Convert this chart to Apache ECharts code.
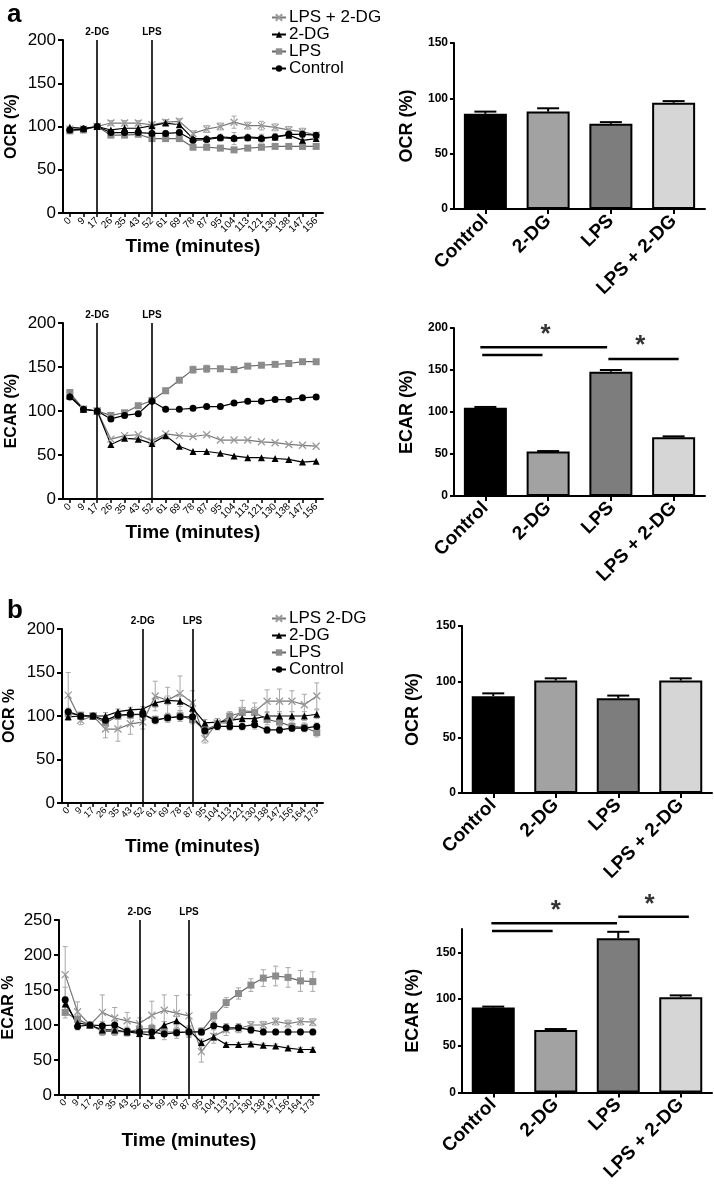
<!DOCTYPE html>
<html><head><meta charset="utf-8">
<script src="https://cdn.jsdelivr.net/npm/echarts@6/dist/echarts.min.js"></script>
<style>html,body{margin:0;padding:0;background:#fff}#c{width:714px;height:1184px}</style>
</head><body><div id="c"></div>
<script>
// ---------- DATA ----------
const timesA = ['0','9','17','26','35','43','52','61','69','78','87','95','104','113','121','130','138','147','156'];
const timesB = ['0','9','17','26','35','43','52','61','69','78','87','95','104','113','121','130','138','147','156','164','173'];
const eventsA = [['17','2-DG'],['52','LPS']];
const eventsB = [['52','2-DG'],['87','LPS']];

// panel a, OCR (%)
const ocrA_ctrl  = [96,97,100,93,93,93,92,92,93,84,85,87,86,87,86,88,91,91,90];
const ocrA_dg    = [99,98,100,96,98,98,101,104,102,86,86,88,87,88,87,88,90,84,86];
const ocrA_lps   = [95,96,100,90,90,91,86,86,86,76,76,75,73,75,76,77,77,77,77];
const ocrA_combo = [97,97,100,104,104,104,102,105,106,92,97,100,105,101,101,99,96,94,90];
const ocrA_err   = [2,2,1,3,3,3,3,3,3,3,4,4,7,4,5,4,4,4,3];
// panel a, ECAR (%)
const ecarA_ctrl  = [116,102,100,91,95,97,111,102,102,103,105,105,109,111,111,113,113,115,116];
const ecarA_dg    = [117,102,100,62,69,68,63,72,60,54,54,52,49,47,47,46,45,42,43];
const ecarA_lps   = [121,102,100,95,98,106,112,123,135,147,148,148,147,151,152,153,154,156,156];
const ecarA_combo = [118,102,100,68,72,73,66,74,72,71,73,67,67,67,65,64,62,61,60];
const ecarA_err   = [3,2,1,3,2,2,2,3,2,4,4,3,2,2,2,2,2,2,2];

// panel b, OCR %
const ocrB_ctrl  = [105,100,100,95,101,102,102,95,98,99,99,83,88,88,88,90,84,84,86,86,88];
const ocrB_dg    = [99,100,100,100,105,107,108,115,118,117,109,92,93,95,97,97,100,100,100,100,102];
const ocrB_lps   = [103,101,100,92,100,101,102,96,98,100,96,84,90,100,104,104,96,93,88,87,81];
const ocrB_combo = [124,95,100,85,85,91,93,123,118,126,115,74,92,92,106,105,117,117,117,113,123];
const ocrB_ctrl_err  = [4,3,2,4,3,3,3,4,5,5,5,4,4,4,4,5,4,4,4,4,4];
const ocrB_dg_err    = [4,3,2,4,3,3,3,5,5,6,5,4,4,4,5,5,5,5,5,5,5];
const ocrB_lps_err   = [4,3,2,5,4,4,4,4,5,6,5,4,4,5,6,6,6,6,5,5,5];
const ocrB_combo_err = [26,5,3,10,14,12,8,17,15,20,14,5,5,8,12,10,13,14,12,12,15];
// panel b, ECAR %
const ecarB_ctrl  = [136,98,100,99,100,91,90,90,87,89,90,90,99,96,96,93,90,90,90,90,90];
const ecarB_dg    = [130,103,100,93,93,90,88,85,100,106,93,75,83,72,72,73,71,70,67,65,65];
const ecarB_lps   = [118,108,100,91,91,90,94,95,90,90,90,91,113,132,145,157,167,170,168,163,162];
const ecarB_combo = [172,119,100,118,110,106,102,114,121,117,113,62,84,93,95,100,100,105,102,105,104];
const ecarB_ctrl_err  = [18,5,3,6,6,6,6,6,8,8,8,5,6,6,6,5,4,4,4,4,4];
const ecarB_dg_err    = [10,5,3,5,5,5,5,5,5,6,6,5,5,3,3,3,3,3,3,3,3];
const ecarB_lps_err   = [8,6,3,6,6,6,6,6,6,6,6,5,6,7,8,9,12,14,14,15,14];
const ecarB_combo_err = [40,14,3,25,15,12,8,20,22,25,30,15,10,8,6,5,5,5,5,5,5];

// bar charts
const barCats = ['Control','2-DG','LPS','LPS + 2-DG'];
const ocrA_bar = [86,88,77,96];     const ocrA_bar_err = [2,3,1.5,1.5];
const ecarA_bar = [105,53,148,70];  const ecarA_bar_err = [1,0.5,2,1];
const ocrB_bar = [87,101,85,101];   const ocrB_bar_err = [2.5,2,2.5,2];
const ecarB_bar = [91,67,165,102];  const ecarB_bar_err = [1,1,7,2];
// significance brackets: [fromIndex, toIndex, value]; stars: [index, value]
const sigA_lines = [[-0.08,1.94,177],[-0.05,0.91,168],[1.96,3.08,163]];
const sigA_stars = [[0.96,192],[2.47,179]];
const sigB_lines = [[-0.03,1.98,181],[-0.02,0.95,173],[2.0,3.13,188]];
const sigB_stars = [[1.0,194],[2.5,200]];

// ---------- STYLE / LAYOUT ----------
const FONT = "'Liberation Sans', Arial, Helvetica, sans-serif";
const barColors = ['#000000','#a2a2a2','#7d7d7d','#d6d6d6'];
const STY = {
  ctrl:  {symbol:'circle', size:7, color:'#000', line:'#000'},
  dg:    {symbol:'triangle', size:7, color:'#000', line:'#000'},
  lps:   {symbol:'rect', size:7, color:'#8c8c8c', line:'#666'},
  combo: {symbol:'path://M0,0L10,10M10,0L0,10', size:7, color:'#9a9a9a', line:'#777', bw:1.3}
};
const grids = [
  {left:63, top:40, width:260, height:173},
  {left:454, top:43, width:251, height:166},
  {left:63, top:323, width:260, height:176},
  {left:454, top:328, width:251, height:168},
  {left:62, top:629, width:261, height:174},
  {left:462, top:626, width:250, height:167},
  {left:58, top:920, width:261, height:175},
  {left:462, top:929, width:250, height:166}
];
// overlay grids for significance marks (same scale, extended range)
const ovA = {max:200, grid:{left:454, top:328, width:251, height:168}};
const ovBmax = 215; const ovBh = ovBmax*166/175;
const ovB = {max:ovBmax, grid:{left:462, top:1095-ovBh, width:250, height:ovBh}};
grids.push(ovA.grid, ovB.grid);

const axLine = {show:true, lineStyle:{color:'#000', width:2}};
function lineX(gi, cats, fs, gap){
  return {gridIndex:gi, type:'category', data:cats, boundaryGap:true, axisLine:axLine,
    axisTick:{show:true, alignWithLabel:true, length:4, lineStyle:{color:'#000', width:1.5}},
    axisLabel:{rotate:45, interval:0, fontSize:fs, color:'#000', margin:6, fontFamily:FONT},
    name:'Time (minutes)', nameLocation:'middle', nameGap:gap,
    nameTextStyle:{fontSize:19, fontWeight:'bold', color:'#000', fontFamily:FONT}};
}
function lineY(gi, max, name, gap){
  return {gridIndex:gi, type:'value', min:0, max:max, interval:50, axisLine:axLine,
    axisTick:{show:true, length:5, lineStyle:{color:'#000', width:2}}, splitLine:{show:false},
    axisLabel:{fontSize:17, color:'#000', margin:7, fontFamily:FONT},
    name:name, nameLocation:'middle', nameGap:gap,
    nameTextStyle:{fontSize:16, fontWeight:'bold', color:'#000', fontFamily:FONT}};
}
function barX(gi){
  return {gridIndex:gi, type:'category', data:barCats, boundaryGap:true, axisLine:axLine,
    axisTick:{show:true, alignWithLabel:true, length:5, lineStyle:{color:'#000', width:2}},
    axisLabel:{rotate:45, interval:0, fontSize:19, fontWeight:'bold', color:'#000', margin:9, fontFamily:FONT}};
}
function barY(gi, max, name, gap){
  return {gridIndex:gi, type:'value', min:0, max:max, interval:50, axisLine:axLine,
    axisTick:{show:true, length:4, customValues:[0,50,100,150,200].filter(v=>v<=max), lineStyle:{color:'#000', width:2}},
    splitLine:{show:false},
    axisLabel:{fontSize:12, fontWeight:'bold', color:'#000', margin:6, fontFamily:FONT,
      customValues:[0,50,100,150,200].filter(v=>v<=max)},
    name:name, nameLocation:'middle', nameGap:gap,
    nameTextStyle:{fontSize:18, fontWeight:'bold', color:'#000', fontFamily:FONT}};
}
function lineSeries(gi, name, key, vals, events){
  const s = STY[key];
  const ser = {type:'line', name:name, xAxisIndex:gi, yAxisIndex:gi, data:vals,
    symbol:s.symbol, symbolSize:s.size, z:4,
    itemStyle:{color:s.color, borderColor:s.color, borderWidth:s.bw||0},
    lineStyle:{color:s.line, width:1.2}};
  if (events){
    ser.markLine = {silent:true, symbol:['none','none'],
      lineStyle:{color:'#000', width:1.6, type:'solid'},
      label:{show:true, position:'end', formatter:'{b}', fontSize:10, fontWeight:'bold', color:'#000', distance:3, fontFamily:FONT},
      data: events.map(e=>({xAxis:e[0], name:e[1]}))};
  }
  return ser;
}
function errSeries(gi, vals, errs, color, capW, upOnly, lw, z){
  return {type:'custom', xAxisIndex:gi, yAxisIndex:gi, silent:true, z:z,
    data: vals.map((v,i)=>[i, v, errs[i]]), encode:{x:0, y:1},
    renderItem:function(p, api){
      const x = api.value(0), y = api.value(1), e = api.value(2);
      const top = api.coord([x, y+e]);
      const bot = api.coord([x, upOnly ? y : y-e]);
      const st = {stroke:color, lineWidth:lw};
      const ch = [
        {type:'line', shape:{x1:top[0], y1:top[1], x2:bot[0], y2:bot[1]}, style:st},
        {type:'line', shape:{x1:top[0]-capW/2, y1:top[1], x2:top[0]+capW/2, y2:top[1]}, style:st}
      ];
      if (!upOnly) ch.push({type:'line', shape:{x1:bot[0]-capW/2, y1:bot[1], x2:bot[0]+capW/2, y2:bot[1]}, style:st});
      return {type:'group', children:ch};
    }};
}
function barSeries(gi, vals, bw){
  return {type:'bar', xAxisIndex:gi, yAxisIndex:gi, barWidth:bw, z:2, silent:true,
    data: vals.map((v,i)=>({value:v, itemStyle:{color:barColors[i]}})),
    itemStyle:{borderColor:'#000', borderWidth:2}};
}
function sigSeries(gi, lines, stars){
  const out = lines.map(l=>({type:'line', xAxisIndex:gi, yAxisIndex:gi, silent:true, symbol:'none', z:5,
    data:[[l[0], l[2]],[l[1], l[2]]], lineStyle:{color:'#000', width:2.5}}));
  out.push({type:'scatter', xAxisIndex:gi, yAxisIndex:gi, silent:true, symbolSize:1, z:5,
    itemStyle:{color:'rgba(0,0,0,0)'}, data:stars,
    label:{show:true, position:'inside', formatter:'*', fontSize:26, fontWeight:'bold', color:'#000', fontFamily:FONT}});
  return out;
}
function ovAxes(gi, max){
  return [{gridIndex:gi, type:'value', min:-0.5, max:3.5, show:false},
          {gridIndex:gi, type:'value', min:0, max:max, show:false}];
}

// ---------- BUILD ----------
const xAxes = [
  lineX(0, timesA, 10, 20), barX(1), lineX(2, timesA, 10, 21), barX(3),
  lineX(4, timesB, 9.5, 34), barX(5), lineX(6, timesB, 9.5, 36), barX(7)
];
const yAxes = [
  lineY(0, 200, 'OCR (%)', 43), barY(1, 150, 'OCR (%)', 38), lineY(2, 200, 'ECAR (%)', 43), barY(3, 200, 'ECAR (%)', 38),
  lineY(4, 200, 'OCR %', 44), barY(5, 150, 'OCR (%)', 40), lineY(6, 250, 'ECAR %', 42), barY(7, 175, 'ECAR (%)', 40)
];
const oa = ovAxes(8, ovA.max), ob = ovAxes(9, ovB.max);
xAxes.push(oa[0], ob[0]); yAxes.push(oa[1], ob[1]);

const G = '#a8a8a8';
const series = [
  // a OCR
  errSeries(0, ocrA_combo, ocrA_err, G, 5, false, 1, 2),
  errSeries(0, ocrA_ctrl, ocrA_err, G, 5, false, 1, 2),
  lineSeries(0, 'LPS', 'lps', ocrA_lps, eventsA),
  lineSeries(0, 'LPS + 2-DG', 'combo', ocrA_combo),
  lineSeries(0, '2-DG', 'dg', ocrA_dg),
  lineSeries(0, 'Control', 'ctrl', ocrA_ctrl),
  // a ECAR
  errSeries(2, ecarA_lps, ecarA_err, G, 5, false, 1, 2),
  lineSeries(2, 'LPS', 'lps', ecarA_lps, eventsA),
  lineSeries(2, 'LPS + 2-DG', 'combo', ecarA_combo),
  lineSeries(2, '2-DG', 'dg', ecarA_dg),
  lineSeries(2, 'Control', 'ctrl', ecarA_ctrl),
  // b OCR
  errSeries(4, ocrB_combo, ocrB_combo_err, G, 5, false, 1, 2),
  errSeries(4, ocrB_lps, ocrB_lps_err, G, 5, false, 1, 2),
  errSeries(4, ocrB_dg, ocrB_dg_err, G, 5, false, 1, 2),
  errSeries(4, ocrB_ctrl, ocrB_ctrl_err, G, 5, false, 1, 2),
  lineSeries(4, 'LPS', 'lps', ocrB_lps, eventsB),
  lineSeries(4, 'LPS 2-DG', 'combo', ocrB_combo),
  lineSeries(4, '2-DG', 'dg', ocrB_dg),
  lineSeries(4, 'Control', 'ctrl', ocrB_ctrl),
  // b ECAR
  errSeries(6, ecarB_combo, ecarB_combo_err, G, 5, false, 1, 2),
  errSeries(6, ecarB_lps, ecarB_lps_err, G, 5, false, 1, 2),
  errSeries(6, ecarB_dg, ecarB_dg_err, G, 5, false, 1, 2),
  errSeries(6, ecarB_ctrl, ecarB_ctrl_err, G, 5, false, 1, 2),
  lineSeries(6, 'LPS', 'lps', ecarB_lps, eventsB),
  lineSeries(6, 'LPS 2-DG', 'combo', ecarB_combo),
  lineSeries(6, '2-DG', 'dg', ecarB_dg),
  lineSeries(6, 'Control', 'ctrl', ecarB_ctrl),
  // bars
  barSeries(1, ocrA_bar, 43), errSeries(1, ocrA_bar, ocrA_bar_err, '#000', 22, true, 2, 3),
  barSeries(3, ecarA_bar, 43), errSeries(3, ecarA_bar, ecarA_bar_err, '#000', 22, true, 2, 3),
  barSeries(5, ocrB_bar, 43), errSeries(5, ocrB_bar, ocrB_bar_err, '#000', 22, true, 2, 3),
  barSeries(7, ecarB_bar, 43), errSeries(7, ecarB_bar, ecarB_bar_err, '#000', 22, true, 2, 3)
].concat(sigSeries(8, sigA_lines, sigA_stars), sigSeries(9, sigB_lines, sigB_stars));

const legendBase = {orient:'vertical', itemGap:0, itemWidth:14, itemHeight:8, selectedMode:false,
  textStyle:{fontSize:17, color:'#000', lineHeight:16, fontFamily:FONT, padding:[0,0,0,-2]}};
const option = {
  animation:false,
  backgroundColor:'#fff',
  textStyle:{fontFamily:FONT},
  title:[
    {text:'a', left:2, top:-3, textStyle:{fontSize:26, fontWeight:'bold', color:'#000', fontFamily:FONT}},
    {text:'b', left:2, top:593, textStyle:{fontSize:26, fontWeight:'bold', color:'#000', fontFamily:FONT}}
  ],
  legend:[
    Object.assign({}, legendBase, {left:266, top:4, data:['LPS + 2-DG','2-DG','LPS','Control']}),
    Object.assign({}, legendBase, {left:266, top:605, data:['LPS 2-DG','2-DG','LPS','Control']})
  ],
  grid: grids,
  xAxis: xAxes,
  yAxis: yAxes,
  series: series
};
const chart = echarts.init(document.getElementById('c'), null, {renderer:'canvas'});
chart.setOption(option);
</script></body></html>
